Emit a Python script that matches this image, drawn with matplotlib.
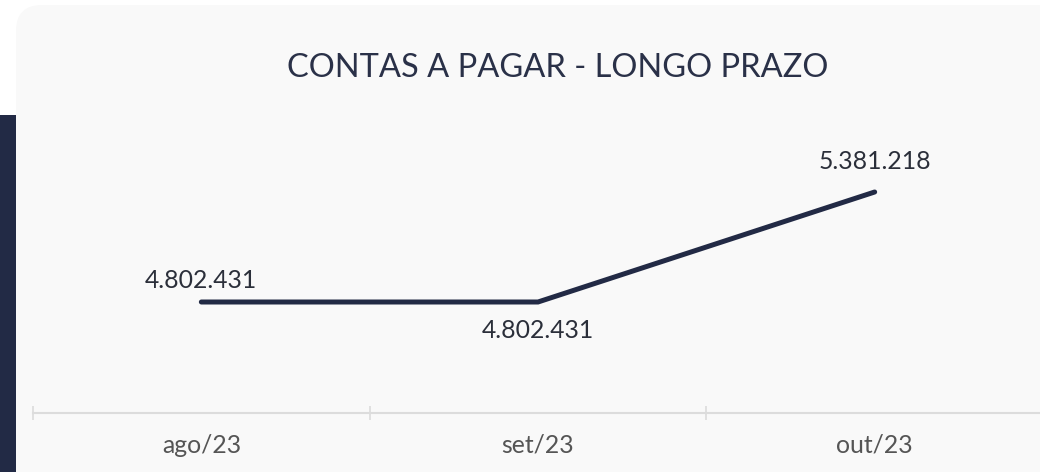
import matplotlib
matplotlib.use("Agg")
import matplotlib.pyplot as plt
from matplotlib.patches import FancyBboxPatch, Rectangle

categories = ["ago/23", "set/23", "out/23"]
values = [4802431, 4802431, 5381218]
labels = ["4.802.431", "4.802.431", "5.381.218"]
title = "CONTAS A PAGAR - LONGO PRAZO"

W, H = 1040, 472
fig = plt.figure(figsize=(W / 100, H / 100), dpi=100)
fig.patch.set_facecolor("white")

# navy side bar and card
fig.patches.append(Rectangle((0, 0), 20 / W, (H - 115) / H, transform=fig.transFigure,
                             facecolor="#222a45", edgecolor="none", zorder=0))
fig.patches.append(FancyBboxPatch((16 / W, -30 / H), (W + 40) / W, (H - 5 + 30) / H,
                                  boxstyle="round,pad=0,rounding_size=0.025",
                                  mutation_aspect=W / H,
                                  transform=fig.transFigure, facecolor="#f9f9f9",
                                  edgecolor="none", zorder=1))

# axes: x from pixel 33 to 1043, y from 413 (bottom) to 115 (top)
ax = fig.add_axes([33 / W, (H - 413) / H, 1010 / W, (413 - 115) / H])
ax.set_facecolor("none")
ax.set_zorder(2)
x = list(range(len(categories)))
ax.set_xlim(-0.5, 2.5)
scale = (values[2] - values[0]) / 110.0  # value per pixel
ax.set_ylim(values[0] - 111 * scale, values[2] + 77 * scale)
ax.plot(x, values, color="#222a45", lw=3.6, solid_capstyle="round", solid_joinstyle="miter")

offsets = [(0, 7.5, "bottom"), (0, -12, "top"), (0, 14, "bottom")]
for xi, v, lab, (dx, dy, va) in zip(x, values, labels, offsets):
    ax.annotate(lab, (xi, v), xytext=(dx, dy), textcoords="offset points",
                ha="center", va=va, fontsize=17.8, color="#2b2f3a", family="Lato")

for s in ["top", "right", "left"]:
    ax.spines[s].set_visible(False)
ax.spines["bottom"].set_color("#dcdcdc")
ax.spines["bottom"].set_linewidth(1.5)
ax.set_yticks([])
ax.set_xticks([-0.5, 0.5, 1.5, 2.5], minor=False)
ax.set_xticklabels([])
ax.tick_params(axis="x", which="major", direction="inout", length=10, width=1.2, color="#dcdcdc")
ax.set_xticks(x, minor=True)
ax.set_xticklabels(categories, minor=True)
ax.tick_params(axis="x", which="minor", length=0, pad=15, labelsize=17.8, labelcolor="#555555")
for t in ax.get_xticklabels(minor=True):
    t.set_family("Lato")

fig.text(558 / W, 1 - 68 / H, title, ha="center", va="center", fontsize=23.5,
         color="#2a3148", family="Lato", fontweight="normal", zorder=3)

fig.savefig("out.png", dpi=100, facecolor=fig.get_facecolor())
